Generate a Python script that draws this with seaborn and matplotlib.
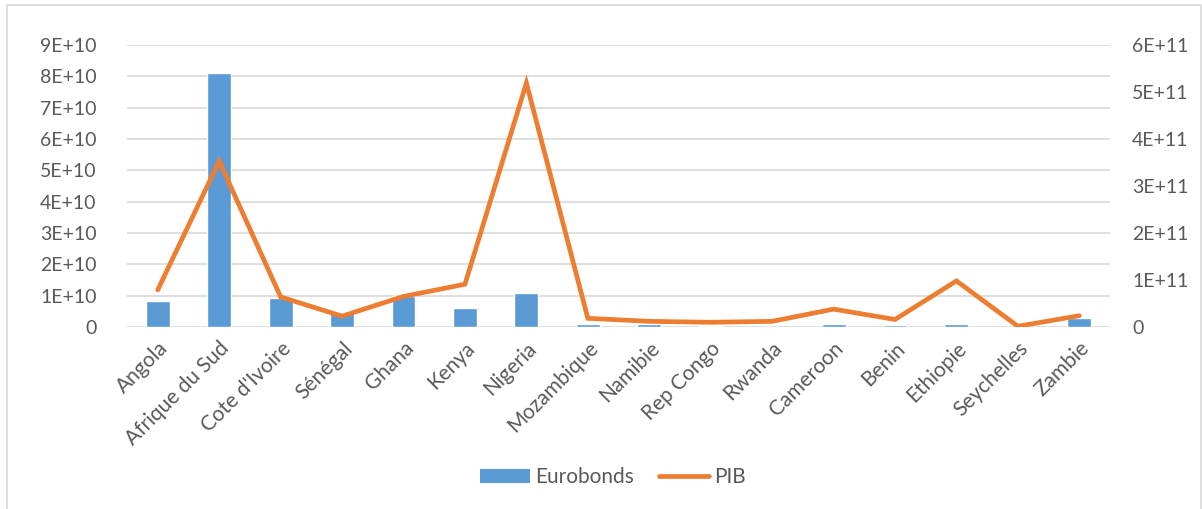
import numpy as np
import matplotlib
matplotlib.use("Agg")
import matplotlib.pyplot as plt
import seaborn as sns
from matplotlib.patches import Patch, Rectangle
from matplotlib.lines import Line2D

countries = ["Angola", "Afrique du Sud", "Cote d'Ivoire", "Sénégal", "Ghana", "Kenya",
             "Nigeria", "Mozambique", "Namibie", "Rep Congo", "Rwanda", "Cameroon",
             "Benin", "Ethiopie", "Seychelles", "Zambie"]
eurobonds = [8.4e9, 8.1e10, 9.4e9, 4.5e9, 1.0e10, 6.0e9,
             1.1e10, 1.0e9, 8e8, 4e8, 0, 8e8,
             5e8, 1.1e9, 0, 2.9e9]
pib = [7.9e10, 3.53e11, 6.4e10, 2.3e10, 6.5e10, 9.1e10,
       5.19e11, 1.85e10, 1.2e10, 1.0e10, 1.2e10, 3.8e10,
       1.6e10, 9.8e10, 1.5e9, 2.4e10]
left_ticks = [0, 1e10, 2e10, 3e10, 4e10, 5e10, 6e10, 7e10, 8e10, 9e10]
left_labels = ["0", "1E+10", "2E+10", "3E+10", "4E+10", "5E+10", "6E+10", "7E+10", "8E+10", "9E+10"]
right_ticks = [0, 1e11, 2e11, 3e11, 4e11, 5e11, 6e11]
right_labels = ["0", "1E+11", "2E+11", "3E+11", "4E+11", "5E+11", "6E+11"]

blue = "#5B9BD5"
orange = "#ED7D31"
grey_txt = "#595959"

sns.set_style("white")
plt.rcParams['font.family'] = ['Lato', 'DejaVu Sans']

fig = plt.figure(figsize=(12.02, 5.09), dpi=100)
ax = fig.add_axes([0.1057, 0.3576, 0.8178, 0.554])

sns.barplot(x=countries, y=eurobonds, color=blue, width=0.39, saturation=1, ax=ax, zorder=2)
ax.set_xlim(-0.5, len(countries) - 0.5)
ax.set_ylim(0, 9e10)
ax.set_yticks(left_ticks)
ax.set_yticklabels(left_labels)
ax.grid(axis="y", color="#D9D9D9", linewidth=1.2, zorder=0)
ax.set_axisbelow(True)
for s in ax.spines.values():
    s.set_visible(False)
ax.tick_params(axis="y", length=0, labelsize=14, colors=grey_txt, pad=22)
ax.tick_params(axis="x", length=0, labelsize=15, colors=grey_txt, pad=8)
ax.set_xticks(range(len(countries)))
ax.set_xticklabels(countries, rotation=45, ha="right", rotation_mode="anchor")
ax.set_xlabel("")

# PIB on the secondary axis
ax2 = ax.twinx()
ax2.plot(np.arange(len(countries)), pib, color=orange, linewidth=3.4, solid_capstyle="round",
         solid_joinstyle="miter")
ax2.set_ylim(0, 6e11)
ax2.set_yticks(right_ticks)
ax2.set_yticklabels(right_labels)
for s in ax2.spines.values():
    s.set_visible(False)
ax2.tick_params(axis="y", length=0, labelsize=14, colors=grey_txt, pad=16)
ax2.grid(False)

handles = [Patch(facecolor=blue, edgecolor="none"),
           Line2D([0], [0], color=orange, linewidth=3.4, solid_capstyle="round")]
fig.legend(handles, ["Eurobonds", "PIB"], loc="center", bbox_to_anchor=(0.51, 0.062),
           ncol=2, frameon=False, fontsize=15, labelcolor=grey_txt,
           handlelength=2.4, handleheight=0.7, handletextpad=0.25, columnspacing=1.2)

fig.patches.append(Rectangle((0.006, -0.01), 0.993, 1.0, transform=fig.transFigure,
                             fill=False, edgecolor="#D9D9D9", linewidth=1.2))

fig.savefig("out.png", dpi=100)
